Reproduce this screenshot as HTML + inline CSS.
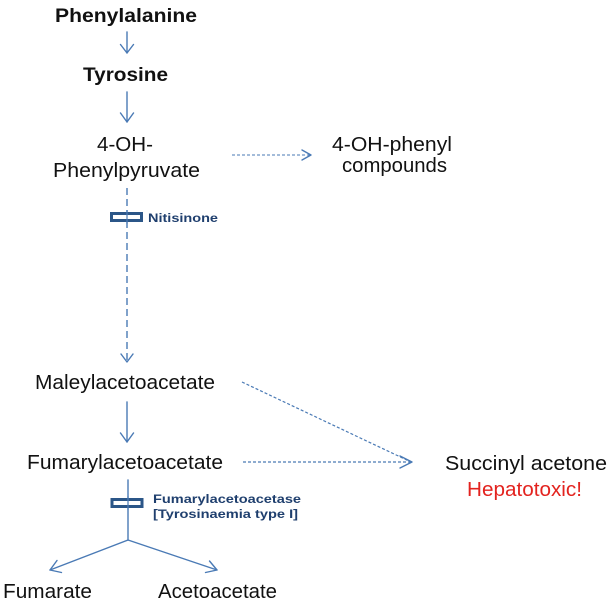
<!DOCTYPE html>
<html><head><meta charset="utf-8"><style>
html,body{margin:0;padding:0;background:#fff;}
svg{display:block;}
text{font-family:"Liberation Sans",Arial,sans-serif;}
</style></head><body>
<svg width="609" height="604" viewBox="0 0 609 604" xmlns="http://www.w3.org/2000/svg">
<rect width="609" height="604" fill="#fff"/>
<g fill="#111" font-size="20">
<text x="55" y="22" font-weight="bold" font-size="19" textLength="142" lengthAdjust="spacingAndGlyphs">Phenylalanine</text>
<text x="83" y="81" font-weight="bold" font-size="19" textLength="85" lengthAdjust="spacingAndGlyphs">Tyrosine</text>
<text x="97" y="151" textLength="56" lengthAdjust="spacingAndGlyphs">4-OH-</text>
<text x="53" y="177" textLength="147" lengthAdjust="spacingAndGlyphs">Phenylpyruvate</text>
<text x="332" y="151" textLength="120" lengthAdjust="spacingAndGlyphs">4-OH-phenyl</text>
<text x="342" y="172" textLength="105" lengthAdjust="spacingAndGlyphs">compounds</text>
<text x="35" y="389" textLength="180" lengthAdjust="spacingAndGlyphs">Maleylacetoacetate</text>
<text x="27" y="469" textLength="196" lengthAdjust="spacingAndGlyphs">Fumarylacetoacetate</text>
<text x="445" y="470" textLength="162" lengthAdjust="spacingAndGlyphs">Succinyl acetone</text>
<text x="467" y="496" fill="#e3231f" textLength="115" lengthAdjust="spacingAndGlyphs">Hepatotoxic!</text>
<text x="3" y="598" textLength="89" lengthAdjust="spacingAndGlyphs">Fumarate</text>
<text x="158" y="598" textLength="119" lengthAdjust="spacingAndGlyphs">Acetoacetate</text>
</g>
<g fill="#1f3f6e" font-size="11.5" font-weight="bold">
<text x="148" y="222" textLength="70" lengthAdjust="spacingAndGlyphs">Nitisinone</text>
<text x="153" y="503" textLength="148" lengthAdjust="spacingAndGlyphs">Fumarylacetoacetase</text>
<text x="153" y="518" textLength="145" lengthAdjust="spacingAndGlyphs">[Tyrosinaemia type I]</text>
</g>
<g stroke="#4a7ab5" stroke-width="1.4" fill="none" stroke-linecap="round" stroke-linejoin="round">
<line x1="127" y1="32" x2="127" y2="53"/>
<polyline points="120.5,44.5 127,53 133.5,44.5"/>
<line x1="127" y1="92" x2="127" y2="122"/>
<polyline points="120.5,113 127,122 133.5,113"/>
<line x1="127" y1="402" x2="127" y2="442"/>
<polyline points="120.5,433 127,442 133.5,433"/>
<line x1="127" y1="188" x2="127" y2="361" stroke-dasharray="7,4" stroke-linecap="butt"/>
<polyline points="121,354 127,362 133,354"/>
<line x1="232" y1="155" x2="311" y2="155" stroke-dasharray="3,2" stroke-width="1.1" stroke-linecap="butt"/>
<polyline points="302,150 311,155 302,160"/>
<line x1="243" y1="462" x2="411" y2="462" stroke-dasharray="3,2" stroke-width="1.2" stroke-linecap="butt"/>
<line x1="242" y1="382" x2="411" y2="462" stroke-dasharray="3,2" stroke-width="1.2" stroke-linecap="butt"/>
<polyline points="400,456 412,462 400,468"/>
<line x1="128" y1="480" x2="128" y2="540"/>
<line x1="128" y1="540" x2="50" y2="570"/>
<polyline points="57,560.5 50,570 61.5,572.5"/>
<line x1="128" y1="540" x2="217" y2="570"/>
<polyline points="209.5,561 217,570 205.5,572.5"/>
</g>
<g stroke="#2b5688" stroke-width="3" fill="#fff">
<rect x="111.5" y="213.5" width="30" height="7"/>
<rect x="112" y="499.5" width="30" height="7"/>
</g>
<g stroke="#4a7ab5" stroke-width="1.2">
<line x1="127" y1="210" x2="127" y2="224"/>
<line x1="128" y1="496" x2="128" y2="510"/>
</g>
</svg>
</body></html>
